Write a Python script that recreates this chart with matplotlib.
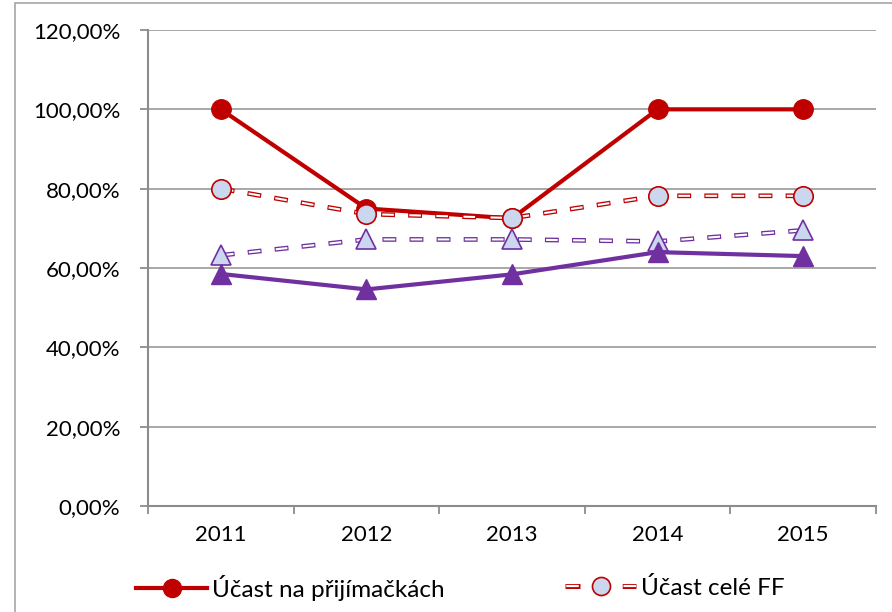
import numpy as np
import matplotlib.pyplot as plt
from matplotlib.patches import Rectangle
from matplotlib.lines import Line2D
from matplotlib.ticker import FuncFormatter, FixedLocator

plt.rcParams['font.family'] = ['Lato', 'DejaVu Sans']
plt.rcParams['lines.scale_dashes'] = False

years = ['2011', '2012', '2013', '2014', '2015']
prijimacky = [100.0, 75.0, 72.5, 100.0, 100.0]       # Účast na přijímačkách
cele_ff = [80.0, 73.6, 72.6, 78.2, 78.2]             # Účast celé FF
fialova_cara = [58.5, 54.6, 58.4, 64.0, 63.0]        # purple solid (legend cut off)
fialova_carkovana = [63.2, 67.2, 67.2, 66.7, 69.5]   # purple dashed (legend cut off)

red = '#C00000'
purple = '#7030A0'
light = '#cbd7ef'

fig = plt.figure(figsize=(8.92, 6.12), dpi=100)
ax = fig.add_axes([148 / 892, 106 / 612, (876 - 148) / 892, (506 - 30) / 612])

x = np.arange(len(years))


def double_dash(xs, ys, color, z):
    # excel-like "double" dashes: colored outline with white core
    ax.plot(xs, ys, color=color, lw=3.4, linestyle=(0, (10, 9.5)),
            dash_capstyle='butt', zorder=z)
    ax.plot(xs, ys, color='white', lw=1.5, linestyle=(19.5 - 0.8, (8.4, 11.1)),
            dash_capstyle='butt', zorder=z + 0.1)


# red series
ax.plot(x, prijimacky, color=red, lw=3.0, marker='o', markersize=14,
        markerfacecolor=red, markeredgecolor=red, zorder=3)
double_dash(x, cele_ff, red, 4)
ax.plot(x, cele_ff, linestyle='none', marker='o', markersize=14,
        markerfacecolor=light, markeredgecolor=red, markeredgewidth=1.2, zorder=4.5)

# purple series
double_dash(x, fialova_carkovana, purple, 5)
ax.plot(x, fialova_carkovana, linestyle='none', marker='^', markersize=14,
        markerfacecolor=light, markeredgecolor=purple, markeredgewidth=1.2, zorder=5.5)
ax.plot(x, fialova_cara, color=purple, lw=3.0, marker='^', markersize=14,
        markerfacecolor=purple, markeredgecolor=purple, zorder=6)

ax.set_xlim(-0.5, len(years) - 0.5)
ax.set_ylim(0, 120)
ax.set_yticks(np.arange(0, 121, 20))
ax.yaxis.set_major_formatter(FuncFormatter(lambda v, p: f'{v:.2f}'.replace('.', ',') + '%'))
ax.set_xticks(x)
ax.set_xticklabels(years)
ax.xaxis.set_minor_locator(FixedLocator(np.arange(-0.5, len(years), 1.0)))

ax.grid(axis='y', color='#a0a0a0', lw=1.3)
ax.set_axisbelow(True)
for s in ['top', 'right']:
    ax.spines[s].set_visible(False)
for s in ['left', 'bottom']:
    ax.spines[s].set_color('#8c8c8c')
    ax.spines[s].set_linewidth(1.5)

ax.tick_params(axis='y', which='major', length=6, width=1.3, color='#8c8c8c',
               labelsize=16, pad=14)
ax.tick_params(axis='x', which='major', length=0, labelsize=16, pad=14)
ax.tick_params(axis='x', which='minor', length=6, width=1.3, color='#8c8c8c')

# legend (only the first row is visible in the reference)
leg_fs = 17.5
h1 = Line2D([], [], color=red, lw=3.0, marker='o', markersize=13,
            markerfacecolor=red, markeredgecolor=red)
fig.legend([h1], ['Účast na přijímačkách'],
           loc='center left', bbox_to_anchor=(136 / 892, 1 - 588 / 612),
           frameon=False, fontsize=leg_fs, handlelength=2.93,
           handletextpad=0.2, borderaxespad=0, borderpad=0)

h2a = Line2D([], [], color=red, lw=3.6, linestyle=(0, (10.8, 30.4)),
             dash_capstyle='butt')
h2b = Line2D([], [], color='white', lw=1.6, linestyle=(41.2 - 0.9, (9.0, 32.2)),
             dash_capstyle='butt')
h2c = Line2D([], [], linestyle='none', marker='o', markersize=13,
             markerfacecolor=light, markeredgecolor=red, markeredgewidth=1.2)
fig.legend([(h2a, h2b, h2c)], ['Účast celé FF'],
           loc='center left', bbox_to_anchor=(565 / 892, 1 - 588 / 612),
           frameon=False, fontsize=leg_fs, handlelength=2.93,
           handletextpad=0.2, borderaxespad=0, borderpad=0)

# chart frame
fig.patches.append(Rectangle((15 / 892, -0.1), 1.0, 1.1 - 3 / 612,
                             transform=fig.transFigure, fill=False,
                             edgecolor='#a6a6a6', lw=1.2))

fig.savefig('out.png', dpi=100)
